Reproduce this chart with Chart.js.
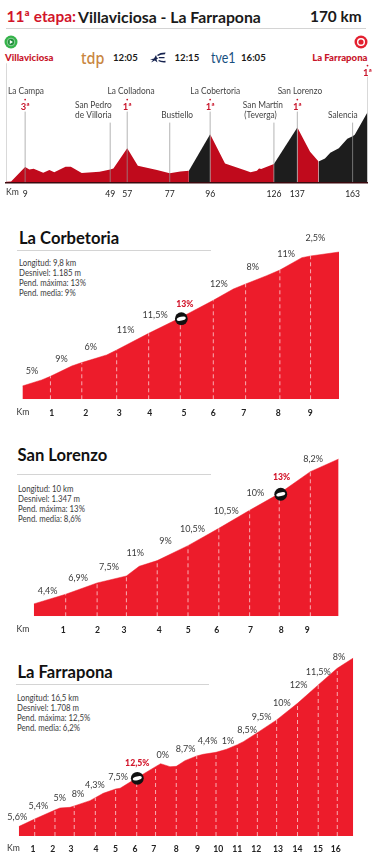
<!DOCTYPE html>
<html lang="es">
<head>
<meta charset="utf-8">
<title>11ª etapa: Villaviciosa - La Farrapona</title>
<script src="https://cdn.jsdelivr.net/npm/chart.js@4/dist/chart.umd.min.js"></script>
<style>
  html, body { margin: 0; padding: 0; background: #fff; }
  body { position: relative; width: 375px; height: 857px; overflow: hidden; font-family: Lato, sans-serif; color: #1a1a1a; }
  canvas { position: absolute; left: 0; }
  .t { position: absolute; white-space: nowrap; line-height: 1; transform: translateY(-50%); transform-origin: left center; }
  .rule { position: absolute; height: 1px; background: #d4d4d4; }
  .head { font-size: 15.4px; font-weight: 700; }
  .red { color: #d2142a; }
  .town { font-size: 9.6px; font-weight: 900; color: #c8142a; }
  .time { font-size: 9.6px; font-weight: 700; }
  .climb { font-size: 16.6px; font-weight: 700; color: #111; }
  .info { font-size: 8.7px; color: #3c3c3c; transform: translateY(-50%) scaleX(.9); }
  svg { position: absolute; }
</style>
</head>
<body>

<div class="t head red" style="left:6.5px;top:17px">11ª etapa:</div>
<div class="t head" style="left:78px;top:17px;font-size:15.8px">Villaviciosa - La Farrapona</div>
<div class="t head" style="left:310px;top:17px">170 km</div>
<div class="rule" style="left:6px;top:28px;width:360px"></div>

<svg style="left:4px;top:35px" width="14" height="14" viewBox="0 0 14 14">
  <circle cx="7" cy="7" r="6.5" fill="#35b34a"/><circle cx="7" cy="7" r="3.8" fill="#1f8f3a" stroke="#bfe8c6" stroke-width=".7"/>
  <path d="M5.8 5 L9 7 L5.8 9 Z" fill="#fff"/>
</svg>
<svg style="left:354px;top:35px" width="14" height="14" viewBox="0 0 14 14">
  <circle cx="7" cy="7" r="6.5" fill="#e3202f"/><circle cx="7" cy="7" r="4" fill="#fff"/><circle cx="7" cy="7" r="2.6" fill="#e3202f"/>
</svg>
<div class="t town" style="left:5px;top:57.5px">Villaviciosa</div>
<div class="t town" style="right:7.5px;top:57.5px">La Farrapona</div>

<div class="t" style="left:81px;top:57px;font:500 17px 'Noto Sans',sans-serif;color:#c9863f;transform:translateY(-50%) scaleX(.85)">tdp</div>
<div class="t time" style="left:113px;top:57.5px">12:05</div>
<svg style="left:150px;top:52px" width="16" height="11" viewBox="0 0 16 11">
  <path d="M0 7.5 L4 6.5 L6 3 L7 6 L9 5.5 L6.5 7.6 L7.5 10.5 L4.8 8.6 L1 10.5 L3 8 Z" fill="#16234f"/>
  <path d="M7 3 Q10 .6 15.5 .6 L15 2.2 Q10.5 2.2 8 4 Z M9 5 L14.5 5 L14.5 6.3 L9 6.3 Z M9 8 Q12 9.2 15.5 8.8 L15.5 10.4 Q11 10.8 8.2 9 Z" fill="#16234f"/>
</svg>
<div class="t time" style="left:174.5px;top:57.5px">12:15</div>
<div class="t" style="left:210.5px;top:57px;font:400 15.5px Lato,sans-serif;color:#17507f;transform:translateY(-50%) scaleX(.8)">tve1</div>
<div class="t time" style="left:241px;top:57.5px">16:05</div>

<div class="t climb" style="left:19px;top:237.5px">La Corbetoria</div>
<div class="rule" style="left:17px;top:250px;width:194px"></div>
<div class="t info" style="left:18.5px;top:262.5px">Longitud: 9,8 km</div>
<div class="t info" style="left:18.5px;top:272.5px">Desnivel: 1.185 m</div>
<div class="t info" style="left:18.5px;top:282.5px">Pend. máxima: 13%</div>
<div class="t info" style="left:18.5px;top:292.5px">Pend. media: 9%</div>

<div class="t climb" style="left:17.5px;top:454.5px">San Lorenzo</div>
<div class="rule" style="left:17px;top:474px;width:194px"></div>
<div class="t info" style="left:17.5px;top:488.5px">Longitud: 10 km</div>
<div class="t info" style="left:17.5px;top:498.5px">Desnivel: 1.347 m</div>
<div class="t info" style="left:17.5px;top:508.5px">Pend. máxima: 13%</div>
<div class="t info" style="left:17.5px;top:518.5px">Pend. media: 8,6%</div>

<div class="t climb" style="left:17.5px;top:671.5px">La Farrapona</div>
<div class="rule" style="left:16px;top:684px;width:193px"></div>
<div class="t info" style="left:16.5px;top:698px">Longitud: 16,5 km</div>
<div class="t info" style="left:16.5px;top:708px">Desnivel: 1.708 m</div>
<div class="t info" style="left:16.5px;top:718px">Pend. máxima: 12,5%</div>
<div class="t info" style="left:16.5px;top:728px">Pend. media: 6,2%</div>

<canvas id="etapa" width="375" height="210" style="top:0"></canvas>
<canvas id="corbetoria" width="375" height="210" style="top:215px"></canvas>
<canvas id="lorenzo" width="375" height="205" style="top:435px"></canvas>
<canvas id="farrapona" width="375" height="207" style="top:650px"></canvas>

<script>
/* DATOS - perfil de la etapa */
const etapaKm = [0, 2.4, 9, 11, 13, 17.5, 20.4, 22.7, 28, 30.5, 35.6, 44, 49, 50.5, 57, 62, 71, 77, 82, 86, 96, 103, 112, 115, 118, 119, 120, 126, 137, 143, 147, 150, 152.5, 156.5, 160.5, 163, 164, 170];
const etapaAlt = [15, 20, 368, 312, 328, 232, 296, 240, 376, 376, 224, 256, 312, 336, 824, 400, 296, 216, 264, 280, 1160, 456, 296, 240, 280, 336, 320, 440, 1328, 736, 504, 576, 712, 824, 1056, 1112, 1152, 1696];
const tramosNegros = [[86, 96], [126, 137], [147, 170]];
const etapaTicks = [9, 49, 57, 77, 96, 126, 137, 163];
const lugares = [['La Campa'], ['San Pedro', 'de Villoria'], ['La Colladona'], ['Bustiello'], ['La Cobertoria'], ['San Martín', '(Teverga)'], ['San Lorenzo'], ['Salencia']];
const categorias = ['3ª', '1ª', '1ª', '1ª', '1ª'];

/* La Corbetoria */
const corbKm = [0, 0.6, 0.87, 1.53, 1.84, 2.61, 2.92, 3.91, 4.89, 5.91, 6.53, 6.91, 7.56, 7.97, 8.65, 8.92, 9.8];
const corbAlt = [118, 172, 204, 296, 326, 394, 438, 586, 725, 879, 980, 1024, 1098, 1148, 1258, 1273, 1308];
const corbCortes = [0.87, 1.84, 2.92, 3.91, 4.89, 5.91, 6.91, 7.97, 8.92];
const corbTicks = [0.91, 1.96, 3, 3.94, 5, 5.91, 6.85, 7.92, 8.91];
const corbPend = ['5%', '9%', '6%', '11%', '11,5%', '13%', '12%', '8%', '11%', '2,5%'];

/* San Lorenzo */
const lorKm = [0, 1.05, 2.08, 3.04, 3.46, 4.05, 5.06, 6.07, 7.08, 8.05, 9.07, 10];
const lorAlt = [115, 205, 310, 375, 465, 518, 657, 818, 986, 1141, 1345, 1463];
const lorCortes = [1.05, 2.08, 3.04, 4.05, 5.06, 6.07, 7.08, 8.05, 9.07];
const lorTicks = [0.97, 2.09, 2.96, 4.12, 5.07, 6, 7.11, 8.12, 8.97];
const lorPend = ['4,4%', '6,9%', '7,5%', '11%', '9%', '10,5%', '10,5%', '10%', '13%', '8,2%'];

/* La Farrapona */
const farKm = [0, 0.79, 1.79, 2.04, 2.53, 2.74, 3.52, 3.78, 4.17, 4.78, 5, 5.82, 6.75, 7, 7.46, 7.77, 8.2, 8.78, 9.1, 9.73, 10.25, 10.78, 11.08, 11.77, 12.72, 13.75, 14.77, 15.71, 16.5];
const farAlt = [95, 172, 263, 284, 290, 304, 358, 388, 432, 476, 483, 587, 702, 732, 702, 705, 763, 810, 827, 847, 878, 925, 955, 1046, 1175, 1343, 1529, 1698, 1802];
const farCortes = [0.79, 1.79, 2.74, 3.78, 4.78, 5.82, 6.75, 7.77, 8.78, 9.73, 10.78, 11.77, 12.72, 13.75, 14.77, 15.71];
const farTicks = [0.71, 1.68, 2.58, 3.81, 4.78, 5.74, 6.66, 7.77, 8.82, 9.84, 10.78, 11.72, 12.79, 13.75, 14.76, 15.63];
const farPend = ['5,6%', '5,4%', '5%', '8%', '4,3%', '7,5%', '12,5%', '0%', '8,7%', '4,4%', '1%', '8,5%', '9,5%', '10%', '12%', '11,5%', '8%'];

/* SITIO DE LOS TEXTOS, en km / altura de cada grafico */
const lugaresPos = [[[9.4, 2208]], [[41.1, 1862], [41.1, 1620]], [[58.8, 2208]], [[80.5, 1628]], [[98.4, 2208]], [[120.8, 1862], [119.7, 1620]], [[138.2, 2208]], [[158.4, 1628]]];
const categoriasPos = [[9, 1830], [57, 1830], [96, 1830], [137, 1830], [170, 2652]];
const lineasEtapa = [[0, 2877], [9, 1709], [49, 1443], [57, 1709], [77, 1443], [96, 1709], [126, 1443], [137, 1709], [163, 1443], [170, 2555]];
const corbPendPos = [[0.3, 258], [1.21, 361], [2.12, 471], [3.2, 622], [4.11, 749], [5.03, 850], [6.08, 1030], [7.13, 1181], [8.16, 1291], [9.07, 1439]];
const lorPendPos = [[0.46, 239], [1.46, 360], [2.47, 465], [3.33, 595], [4.32, 701], [5.21, 818], [6.31, 986], [7.27, 1153], [8.13, 1302], [9.16, 1466]];
const farPendPos = [[-0.07, 192], [0.97, 311], [2.02, 388], [2.93, 425], [3.76, 520], [4.9, 601], [5.85, 743], [7.1, 824], [8.23, 884], [9.32, 969], [10.32, 969], [11.26, 1080], [11.98, 1212], [12.98, 1347], [13.8, 1536], [14.77, 1664], [15.79, 1816]];

/* Plugin que pone textos y coche de pendiente maxima usando las escalas */
const marcas = {
  id: 'marcas',
  afterDatasetsDraw(chart, args, opts) {
    const ctx = chart.ctx, xs = chart.scales.x, ys = chart.scales.y;
    ctx.save();
    ctx.textAlign = 'center';
    ctx.textBaseline = 'middle';
    (opts.textos || []).forEach(t => {
      ctx.save();
      ctx.translate(xs.getPixelForValue(t.x), ys.getPixelForValue(t.y));
      ctx.scale(t.estirar || 0.87, 1);   // la letra original es mas estrecha
      ctx.font = t.font;
      ctx.fillStyle = t.color;
      ctx.fillText(t.text, 0, 0);
      ctx.restore();
    });
    (opts.puntos || []).forEach(p => {
      ctx.fillStyle = '#c8142a';
      ctx.beginPath();
      ctx.arc(xs.getPixelForValue(p[0]), ys.getPixelForValue(p[1]), 0.9, 0, Math.PI * 2);
      ctx.fill();
    });
    if (opts.coche) {
      const cx = xs.getPixelForValue(opts.coche[0]), cy = ys.getPixelForValue(opts.coche[1]);
      ctx.fillStyle = '#111';
      ctx.beginPath();
      ctx.arc(cx, cy, 6.4, 0, Math.PI * 2);
      ctx.fill();
      ctx.fillStyle = '#fff';
      ctx.beginPath();
      ctx.ellipse(cx, cy, 4.6, 1.9, -0.22, 0, Math.PI * 2);
      ctx.fill();
    }
    ctx.font = '400 8.6px Lato, sans-serif';
    ctx.fillStyle = '#333';
    ctx.fillText('Km', opts.kmX, chart.chartArea.bottom + opts.tickCentro);
    ctx.restore();
  }
};

function escalas(min, max, yMax, ticks, altoEje, padTick, peso) {
  return {
    x: {
      type: 'linear', min: min, max: max,
      border: { display: false },
      grid: { display: false, drawTicks: false },
      afterBuildTicks: s => { s.ticks = ticks.map(v => ({ value: v })); },
      afterFit: s => { s.height = altoEje; },
      ticks: {
        autoSkip: false, maxRotation: 0, padding: padTick, color: '#222',
        font: { family: 'Lato', size: 8.6, weight: peso },
        callback: (v, i) => String(i + 1)
      }
    },
    y: { display: false, min: 0, max: yMax }
  };
}

function base(plugOpts, scales, padding) {
  return {
    responsive: false, animation: false,
    layout: { padding: padding },
    elements: { point: { radius: 0 }, line: { tension: 0 } },
    plugins: { legend: { display: false }, tooltip: { enabled: false }, marcas: plugOpts },
    scales: scales
  };
}

/* Cada puerto sale igual, solo cambian datos y margenes */
function puerto(id, km, alt, cortes, ticks, pend, pendPos, rojo, coche, kmX, yMax, altoEje, left, right) {
  const perfil = km.map((v, i) => ({ x: v, y: alt[i] }));
  const lineas = [];
  cortes.forEach(c => {
    lineas.push({ x: c, y: 0 }, { x: c, y: alt[km.indexOf(c)] }, { x: c, y: null });
  });
  const textos = pend.map((p, i) => ({
    text: p, x: pendPos[i][0], y: pendPos[i][1],
    color: i === rojo ? '#d2142a' : '#3a3a3a',
    font: i === rojo ? '900 10px Lato, sans-serif' : '400 10.4px Lato, sans-serif'
  }));
  new Chart(document.getElementById(id), {
    type: 'line',
    data: {
      datasets: [
        { data: lineas, borderColor: 'rgba(255,255,255,.8)', borderWidth: 0.8, borderDash: [4, 3], fill: false, order: 0 },
        { data: perfil, borderColor: '#ed1c2b', borderWidth: 0.5, backgroundColor: '#ed1c2b', fill: 'origin', order: 1 }
      ]
    },
    options: base({ textos: textos, coche: coche, kmX: kmX, tickCentro: 12.7 },
      escalas(km[0], km[km.length - 1], yMax, ticks, altoEje, 8.5, 700),
      { left: left, right: right, top: 0, bottom: 0 }),
    plugins: [marcas]
  });
}

/* GRAFICO DE LA ETAPA */
const perfilEtapa = etapaKm.map((v, i) => ({ x: v, y: etapaAlt[i] }));
const esNegro = km => tramosNegros.some(t => km > t[0] && km <= t[1]);
const verticales = [];
lineasEtapa.forEach(l => { verticales.push({ x: l[0], y: 0 }, { x: l[0], y: l[1] }, { x: l[0], y: null }); });

const textosEtapa = [];
lugares.forEach((lineas, i) => {
  lineas.forEach((txt, j) => {
    textosEtapa.push({ text: txt, x: lugaresPos[i][j][0], y: lugaresPos[i][j][1], color: '#444', font: '400 9.6px Lato, sans-serif' });
  });
});
categorias.forEach((c, i) => {
  textosEtapa.push({ text: c, x: categoriasPos[i][0], y: categoriasPos[i][1], color: '#c8142a', font: '700 9.4px Lato, sans-serif', estirar: 1 });
});

const opcionesEtapa = base(
  { textos: textosEtapa, puntos: categoriasPos.map(p => [p[0], p[1] + 170]), kmX: 12.5, tickCentro: 10.4 },
  escalas(0, 170, 4408, etapaTicks, 27.7, 6.5, 400),
  { left: 6, right: 7.5, top: 0, bottom: 0 }
);
opcionesEtapa.scales.x.border = { display: true, color: '#3b0a0f', width: 1.5 };
opcionesEtapa.scales.x.ticks.callback = (v, i) => String(etapaTicks[i]);

new Chart(document.getElementById('etapa'), {
  type: 'line',
  data: {
    datasets: [
      { data: verticales, borderColor: 'rgba(150,150,150,.9)', borderWidth: 0.8, fill: false, order: 0 },
      {
        data: perfilEtapa, borderWidth: 0, backgroundColor: '#c00a1c', fill: 'origin', order: 1,
        segment: { backgroundColor: c => esNegro(c.p1.parsed.x) ? '#1d1d1d' : '#c00a1c' }
      }
    ]
  },
  options: opcionesEtapa,
  plugins: [marcas]
});

puerto('corbetoria', corbKm, corbAlt, corbCortes, corbTicks, corbPend, corbPendPos, 5, [4.92, 716], 23, 1637, 25.7, 22.33, 36);
puerto('lorenzo', lorKm, lorAlt, lorCortes, lorTicks, lorPend, lorPendPos, 8, [8.1, 1135], 23, 1686, 23.7, 33.67, 36.3);
puerto('farrapona', farKm, farAlt, farCortes, farTicks, farPend, farPendPos, 6, [5.85, 584], 13.5, 1883, 21, 18.67, 21.7);
</script>
</body>
</html>
